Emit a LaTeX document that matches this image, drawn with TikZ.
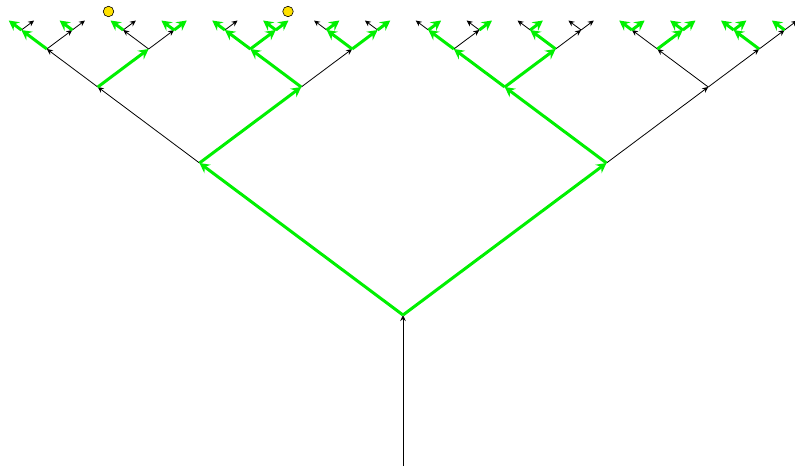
\documentclass[tikz,border=0pt]{standalone}
\usetikzlibrary{arrows.meta,calc}
\definecolor{lgreen}{RGB}{0,240,0}
\definecolor{gold}{RGB}{255,225,0}
\tikzset{
  kk/.style={draw=black,line width=0.8pt,-{Stealth[length=6pt,width=5.5pt,inset=2pt]}},
  gg/.style={draw=lgreen,line width=3pt,-{Stealth[length=10pt,width=10.5pt,inset=3.5pt]}},
  ball/.style={circle,draw=black,fill=gold,line width=0.6pt,minimum size=10.5pt,inner sep=0pt}
}
\begin{document}
\begin{tikzpicture}[x=1pt,y=-1pt]
\useasboundingbox (0,0) rectangle (795,466);
\coordinate (r0) at (403,466);
\coordinate (n) at (403,315);
\foreach \p/\dx/\dy in {n/203.5/152,
  nL/101.75/76, nR/101.75/76,
  nLL/50.9/38, nLR/50.9/38, nRL/50.9/38, nRR/50.9/38,
  nLLL/25.44/19, nLLR/25.44/19, nLRL/25.44/19, nLRR/25.44/19,
  nRLL/25.44/19, nRLR/25.44/19, nRRL/25.44/19, nRRR/25.44/19,
  nLLLL/12.7/9.5, nLLLR/12.7/9.5, nLLRL/12.7/9.5, nLLRR/12.7/9.5,
  nLRLL/12.7/9.5, nLRLR/12.7/9.5, nLRRL/12.7/9.5, nLRRR/12.7/9.5,
  nRLLL/12.7/9.5, nRLLR/12.7/9.5, nRLRL/12.7/9.5, nRLRR/12.7/9.5,
  nRRLL/12.7/9.5, nRRLR/12.7/9.5, nRRRL/12.7/9.5, nRRRR/12.7/9.5}{
  \coordinate (\p L) at ($(\p)+(-\dx,-\dy)$);
  \coordinate (\p R) at ($(\p)+(\dx,-\dy)$);
}
% black edges
\draw[kk] (r0) -- (n);
\foreach \p/\c in {nL/LL, nR/RR,
  nLL/LLL, nLR/LRR, nRR/RRL, nRR/RRR,
  nLLL/LLLR, nLLR/LLRL, nLLR/LLRR, nRLL/RLLR, nRLR/RLRR, nRRL/RRLL, nRRR/RRRR,
  nLLLL/LLLLR, nLLLR/LLLRR, nLLRL/LLRLR, nLRLL/LRLLR,
  nLRRL/LRRLL, nLRRR/LRRRL, nRLLL/RLLLL, nRLLR/RLLRL, nRLRL/RLRLL,
  nRLRR/RLRRL, nRLRR/RLRRR, nRRRR/RRRRR}
  \draw[kk] (\p) -- (n\c);
% green edges
\foreach \p/\c in {n/L, n/R,
  nL/LR, nR/RL,
  nLL/LLR, nLR/LRL, nRL/RLL, nRL/RLR,
  nLLL/LLLL, nLRL/LRLL, nLRL/LRLR, nLRR/LRRL, nLRR/LRRR,
  nRLL/RLLL, nRLR/RLRL, nRRL/RRLR, nRRR/RRRL,
  nLLLL/LLLLL, nLLLR/LLLRL, nLLRL/LLRLL, nLLRR/LLRRL, nLLRR/LLRRR,
  nLRLL/LRLLL, nLRLR/LRLRL, nLRLR/LRLRR, nLRRL/LRRLR, nLRRR/LRRRR,
  nRLLL/RLLLR, nRLLR/RLLRR, nRLRL/RLRLR,
  nRRLL/RRLLL, nRRLL/RRLLR, nRRLR/RRLRL, nRRLR/RRLRR,
  nRRRL/RRRLL, nRRRL/RRRLR, nRRRR/RRRRL}
  \draw[gg] (\p) -- (n\c);
\node[ball] (b1) at (108.5,11.5) {};
\node[ball] (b2) at (288,11.5) {};
\end{tikzpicture}
\end{document}
